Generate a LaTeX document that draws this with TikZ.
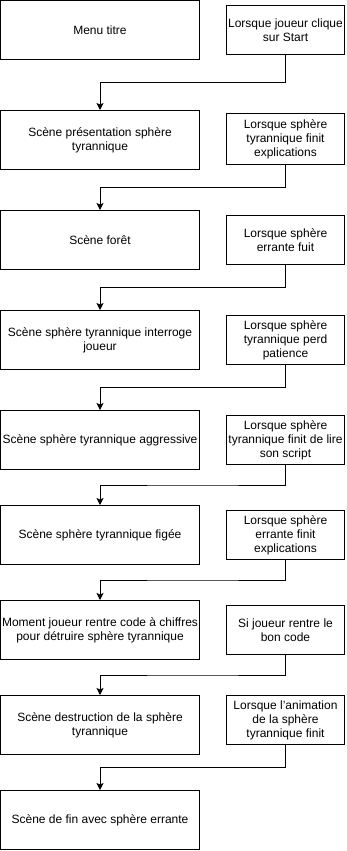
\documentclass[tikz,border=0pt]{standalone}
\usepackage{fontspec}
\setmainfont{Liberation Sans}
\usetikzlibrary{calc,arrows.meta}
\begin{document}
\begin{tikzpicture}[x=1pt,y=1pt,
  scenebox/.style={draw,line width=1pt,minimum width=199pt,minimum height=59pt,
    inner sep=0pt,align=center,font=\fontsize{12pt}{14pt}\selectfont},
  eventbox/.style={draw,line width=1pt,minimum width=118pt,
    inner sep=0pt,align=center,font=\fontsize{12pt}{14pt}\selectfont},
  link/.style={draw,line width=1pt,-{Stealth[length=7pt,width=7pt,inset=1.5pt]}}]
\useasboundingbox (0,0) rectangle (346,-851);

% scenes (left column)
\node[scenebox] (l1) at (100,-30)  {Menu titre};
\node[scenebox] (l2) at (100,-140) {Scène présentation sphère\\tyrannique};
\node[scenebox] (l3) at (100,-240) {Scène forêt};
\node[scenebox] (l4) at (100,-340) {Scène sphère tyrannique interroge\\joueur};
\node[scenebox] (l5) at (100,-440) {Scène sphère tyrannique aggressive};
\node[scenebox] (l6) at (100,-535) {Scène sphère tyrannique figée};
\node[scenebox] (l7) at (100,-630) {Moment joueur rentre code à chiffres\\pour détruire sphère tyrannique};
\node[scenebox] (l8) at (100,-725) {Scène destruction de la sphère\\tyrannique};
\node[scenebox] (l9) at (100,-820) {Scène de fin avec sphère errante};

% triggers (right column)
\node[eventbox,minimum height=49pt] (r1) at (285.5,-30)  {Lorsque joueur clique\\sur Start};
\node[eventbox,minimum height=51pt] (r2) at (285.5,-139) {Lorsque sphère\\tyrannique finit\\explications};
\node[eventbox,minimum height=49pt] (r3) at (285.5,-240) {Lorsque sphère\\errante fuit};
\node[eventbox,minimum height=49pt] (r4) at (285.5,-340) {Lorsque sphère\\tyrannique perd\\patience};
\node[eventbox,minimum height=49pt] (r5) at (285.5,-440) {Lorsque sphère\\tyrannique finit de lire\\son script};
\node[eventbox,minimum height=49pt] (r6) at (285.5,-535) {Lorsque sphère\\errante finit\\explications};
\node[eventbox,minimum height=49pt] (r7) at (285.5,-630) {Si joueur rentre le\\bon code};
\node[eventbox,minimum height=49pt] (r8) at (285.5,-720) {Lorsque l{\char39}animation\\de la sphère\\tyrannique finit};

% transitions
\foreach \r/\l in {r1/l2,r2/l3,r3/l4,r4/l5,r5/l6,r6/l7,r7/l8,r8/l9}
  \draw[link] (\r.south) |- ($(\r.south)!.5!(\l.north)$) -| (\l.north);
\end{tikzpicture}
\end{document}
